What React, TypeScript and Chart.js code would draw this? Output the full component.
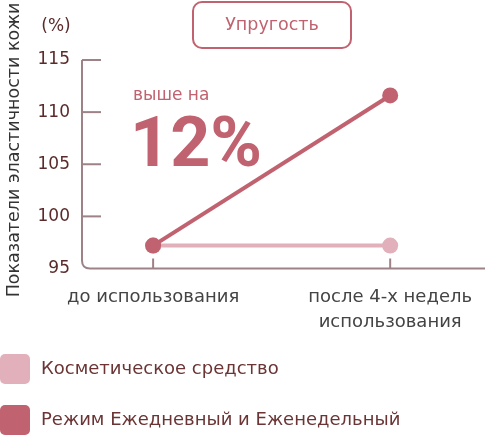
import React, { useEffect, useRef } from "react";
import { Chart, registerables } from "chart.js";

Chart.register(...registerables);

const categories = [["до использования"], ["после 4-х недель", "использования"]];
const seriesNames = ["Косметическое средство", "Режим Ежедневный и Еженедельный"];
const cosmeticValues = [97.2, 97.2];
const regimeValues = [97.2, 111.6];
const yTicks = [95, 100, 105, 110, 115];

const FONT = "'DejaVu Sans', sans-serif";
const DARK = "#c0626f";
const LIGHT = "#e2b0bb";
const AXIS = "#9d8288";

const decorPlugin = {
  id: "decor",
  beforeDatasetsDraw(chart: any) {
    const { ctx, chartArea, scales } = chart;
    const x = scales.x;
    const y = scales.y;
    const left = chartArea.left;
    const bottom = y.getPixelForValue(95);
    const top = y.getPixelForValue(115);
    const r = 8;

    ctx.save();
    ctx.strokeStyle = AXIS;
    ctx.lineWidth = 2;
    // axis with rounded corner
    ctx.beginPath();
    ctx.moveTo(left, top);
    ctx.lineTo(left, bottom - r);
    ctx.quadraticCurveTo(left, bottom, left + r, bottom);
    ctx.lineTo(chart.width, bottom);
    ctx.stroke();
    // y tick marks inside
    yTicks.slice(1).forEach((v) => {
      const py = y.getPixelForValue(v);
      ctx.beginPath();
      ctx.moveTo(left, py);
      ctx.lineTo(left + 19, py);
      ctx.stroke();
    });
    // x tick marks
    categories.forEach((_, i) => {
      const px = x.getPixelForValue(i);
      ctx.beginPath();
      ctx.moveTo(px, bottom);
      ctx.lineTo(px, bottom - 10);
      ctx.stroke();
    });
    ctx.restore();
  },
  afterDraw(chart: any) {
    const { ctx } = chart;
    ctx.save();

    // title box
    ctx.strokeStyle = DARK;
    ctx.lineWidth = 2;
    ctx.beginPath();
    ctx.roundRect(193, 2, 158, 46, 9);
    ctx.stroke();
    ctx.fillStyle = DARK;
    ctx.font = `17.5px ${FONT}`;
    ctx.textAlign = "center";
    ctx.textBaseline = "middle";
    ctx.fillText("Упругость", 272, 25);

    // unit
    ctx.fillStyle = "#5b2b2b";
    ctx.font = `17px ${FONT}`;
    ctx.fillText("(%)", 56, 27);

    // y axis title
    ctx.save();
    ctx.translate(14, 150);
    ctx.rotate(-Math.PI / 2);
    ctx.fillStyle = "#333333";
    ctx.font = `17.5px ${FONT}`;
    ctx.fillText("Показатели эластичности кожи", 0, 0);
    ctx.restore();

    // difference note
    ctx.textAlign = "left";
    ctx.textBaseline = "alphabetic";
    ctx.fillStyle = DARK;
    ctx.font = `17px ${FONT}`;
    ctx.fillText("выше на", 133, 100);
    ctx.font = "bold 70px Roboto, sans-serif";
    ctx.fillText("12%", 130, 166);

    // legend
    ctx.textBaseline = "middle";
    ctx.font = `18px ${FONT}`;
    chart.data.datasets.forEach((ds: any, i: number) => {
      const top = 354 + i * 51;
      ctx.fillStyle = ds.borderColor;
      ctx.beginPath();
      ctx.roundRect(0, top, 30, 30, 5);
      ctx.fill();
      ctx.fillStyle = "#6b3535";
      ctx.fillText(ds.label, 41, top + 15);
    });
    ctx.restore();
  },
};

export default function App() {
  const chartRef = useRef<HTMLCanvasElement>(null);
  const chartInstance = useRef<Chart>();

  useEffect(() => {
    if (!chartRef.current) return;
    const ctx = chartRef.current.getContext("2d");
    if (!ctx) return;
    if (chartInstance.current) chartInstance.current.destroy();

    chartInstance.current = new Chart(ctx, {
      type: "line",
      data: {
        datasets: [
          {
            label: seriesNames[0],
            data: cosmeticValues.map((v, i) => ({ x: i, y: v })),
            borderColor: LIGHT,
            backgroundColor: LIGHT,
            borderWidth: 4,
            pointRadius: 8,
            pointBorderWidth: 0,
            order: 2,
          },
          {
            label: seriesNames[1],
            data: regimeValues.map((v, i) => ({ x: i, y: v })),
            borderColor: DARK,
            backgroundColor: DARK,
            borderWidth: 4,
            pointRadius: 8,
            pointBorderWidth: 0,
            order: 1,
          },
        ],
      },
      options: {
        animation: false,
        responsive: true,
        maintainAspectRatio: false,
        clip: false,
        layout: { autoPadding: false, padding: { top: 60, left: 0, right: 0, bottom: 0 } },
        plugins: {
          legend: { display: false },
          tooltip: { enabled: false },
        },
        scales: {
          x: {
            type: "linear",
            min: -0.3,
            max: 1.4,
            afterBuildTicks: (scale: any) => {
              scale.ticks = categories.map((_, i) => ({ value: i }));
            },
            afterFit: (scale: any) => {
              scale.height = 166.5;
              scale.paddingLeft = 0;
              scale.paddingRight = 0;
            },
            grid: { display: false, drawTicks: false },
            border: { display: false },
            ticks: {
              padding: 16,
              maxRotation: 0,
              color: "#444444",
              font: { family: FONT, size: 18, lineHeight: 1.39 },
              callback: (v: any) => categories[v as number] ?? "",
            },
          },
          y: {
            min: 95,
            max: 115,
            afterBuildTicks: (scale: any) => {
              scale.ticks = yTicks.map((v) => ({ value: v }));
            },
            afterFit: (scale: any) => {
              scale.width = 82;
            },
            grid: { display: false, drawTicks: false },
            border: { display: false },
            ticks: {
              padding: 12,
              color: "#5b2b2b",
              font: { family: FONT, size: 17 },
            },
          },
        },
      },
      plugins: [decorPlugin],
    });

    return () => {
      if (chartInstance.current) {
        chartInstance.current.destroy();
        chartInstance.current = undefined;
      }
    };
  }, []);

  return (
    <div style={{ position: "absolute", left: 0, top: 0, width: 485, height: 435 }}>
      <canvas ref={chartRef} />
    </div>
  );
}
